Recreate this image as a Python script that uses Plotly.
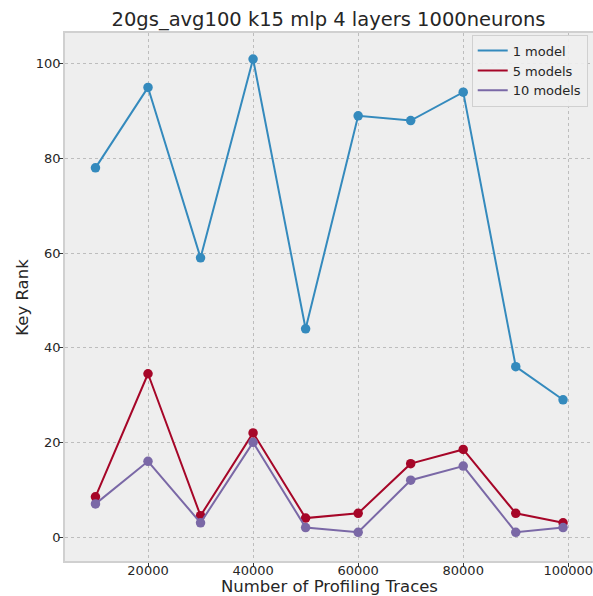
import plotly.graph_objects as go

traces_x = [10000, 20000, 30000, 40000, 50000, 60000, 70000, 80000, 90000, 99000]
one_model = [78, 95, 59, 101, 44, 89, 88, 94, 36, 29]
five_models = [8.5, 34.5, 4.5, 22, 4, 5, 15.5, 18.5, 5, 3]
ten_models = [7, 16, 3, 20, 2, 1, 12, 15, 1, 2]
x_ticks = [20000, 40000, 60000, 80000, 100000]
y_ticks = [0, 20, 40, 60, 80, 100]

series = [
    ("1 model", one_model, "#348ABD"),
    ("5 models", five_models, "#A60628"),
    ("10 models", ten_models, "#7A68A6"),
]

fig = go.Figure()
for name, vals, color in series:
    fig.add_trace(go.Scatter(
        x=traces_x, y=vals, name=name, mode="lines+markers",
        line=dict(color=color, width=2),
        marker=dict(color=color, size=9.5),
        showlegend=False,
    ))
# legend entries drawn as plain line samples, like the original
for name, vals, color in series:
    fig.add_trace(go.Scatter(
        x=[None], y=[None], name=name, mode="lines",
        line=dict(color=color, width=2), showlegend=True,
    ))

axis_common = dict(
    showgrid=True, gridcolor="#bdbdbd", griddash="dot", gridwidth=0.8,
    zeroline=False, showline=True, linecolor="#d0d0d0", linewidth=1.5, mirror=True,
    ticks="outside", ticklen=4, tickcolor="#333333", tickwidth=1,
    tickfont=dict(size=13, color="#262626"), automargin=False,
    ticklabeloverflow="allow",
)

fig.update_layout(
    width=593, height=596,
    margin=dict(l=65, r=0, t=33, b=35),
    paper_bgcolor="white", plot_bgcolor="#eeeeee",
    font=dict(family="DejaVu Sans", color="#262626"),
    title=dict(text="20gs_avg100 k15 mlp 4 layers 1000neurons", x=0.554, xanchor="center",
               y=0.968, yanchor="middle", font=dict(size=19.5, color="#262626")),
    xaxis=dict(range=[4200, 104700], tickvals=x_ticks, ticktext=[str(v) for v in x_ticks],
               ticklabelstandoff=-7, **axis_common),
    yaxis=dict(range=[-5.07, 106.5], tickvals=y_ticks, ticktext=[str(v) for v in y_ticks],
               ticklabelstandoff=-4, **axis_common),
    legend=dict(x=0.99, y=0.997, xanchor="right", yanchor="top",
                bgcolor="rgba(238,238,238,0.9)", bordercolor="#d0d0d0", borderwidth=1,
                font=dict(size=13, color="#262626"), tracegroupgap=0),
    showlegend=True,
    annotations=[
        dict(text="Number of Profiling Traces", xref="paper", yref="paper",
             x=0.5, y=-0.048, xanchor="center", yanchor="middle", showarrow=False,
             font=dict(size=16.5, color="#262626")),
        dict(text="Key Rank", xref="paper", yref="paper",
             x=-0.082, y=0.5, xanchor="center", yanchor="middle", textangle=-90,
             showarrow=False, font=dict(size=16.5, color="#262626")),
    ],
)

fig.write_html("out.html")
